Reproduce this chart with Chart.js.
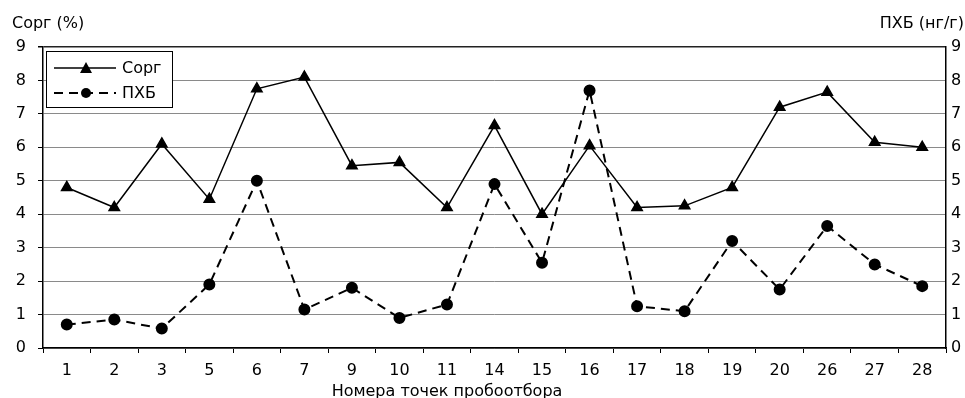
<!DOCTYPE html>
<html>
<head>
<meta charset="utf-8">
<script src="https://cdn.jsdelivr.net/npm/chart.js@4"></script>
<style>
  html, body { margin: 0; padding: 0; background: #fff; }
  #wrap { width: 965px; height: 398px; }
</style>
</head>
<body>
<div id="wrap"><canvas id="chart"></canvas></div>
<script>
// точки пробоотбора
const points = ['1', '2', '3', '5', '6', '7', '9', '10', '11', '14', '15', '16', '17', '18', '19', '20', '26', '27', '28'];
// Сорг, %
const corg = [4.8, 4.2, 6.1, 4.45, 7.75, 8.1, 5.45, 5.55, 4.2, 6.65, 4.0, 6.05, 4.2, 4.25, 4.8, 7.2, 7.65, 6.15, 6.0];
// ПХБ, нг/г
const pcb = [0.7, 0.85, 0.58, 1.9, 5.0, 1.15, 1.8, 0.9, 1.3, 4.9, 2.55, 7.7, 1.25, 1.1, 3.2, 1.75, 3.65, 2.5, 1.85];
const yTicks = [0, 1, 2, 3, 4, 5, 6, 7, 8, 9];

const FONT = 'DejaVu Sans';

// подписи осей и легенда рисуются вручную
const extras = {
  id: 'extras',
  afterDraw(chart) {
    const ctx = chart.ctx;
    const area = chart.chartArea;
    ctx.save();
    ctx.fillStyle = '#000';
    ctx.font = '16px "' + FONT + '"';
    ctx.textBaseline = 'alphabetic';
    ctx.textAlign = 'left';
    ctx.fillText('Сорг (%)', 12, 28);
    ctx.textAlign = 'right';
    ctx.fillText('ПХБ (нг/г)', 964, 28);
    ctx.textAlign = 'center';
    ctx.fillText('Номера точек пробоотбора', 447, 396);

    // легенда
    const lx = area.left + 3, ly = area.top + 4, lw = 126, lh = 56;
    ctx.fillStyle = '#fff';
    ctx.fillRect(lx, ly, lw, lh);
    ctx.strokeStyle = '#000';
    ctx.lineWidth = 1;
    ctx.strokeRect(lx + 0.5, ly + 0.5, lw, lh);
    chart.data.datasets.forEach((ds, i) => {
      const y = ly + 17 + i * 25;
      ctx.strokeStyle = '#000';
      ctx.lineWidth = ds.borderWidth;
      ctx.setLineDash(ds.borderDash || []);
      ctx.beginPath();
      ctx.moveTo(lx + 8, y);
      ctx.lineTo(lx + 70, y);
      ctx.stroke();
      ctx.setLineDash([]);
      ctx.fillStyle = '#000';
      const cx = lx + 40;
      if (ds.pointStyle === 'triangle') {
        ctx.beginPath();
        ctx.moveTo(cx, y - 6);
        ctx.lineTo(cx + 6, y + 5);
        ctx.lineTo(cx - 6, y + 5);
        ctx.closePath();
        ctx.fill();
      } else {
        ctx.beginPath();
        ctx.arc(cx, y, 5, 0, Math.PI * 2);
        ctx.fill();
      }
      ctx.textAlign = 'left';
      ctx.textBaseline = 'middle';
      ctx.fillText(ds.label, lx + 76, y + 1);
    });
    ctx.restore();
  }
};

new Chart(document.getElementById('chart'), {
  type: 'line',
  data: {
    labels: points,
    datasets: [
      {
        label: 'Сорг',
        data: corg,
        yAxisID: 'y',
        borderColor: '#000',
        backgroundColor: '#000',
        borderWidth: 1.5,
        pointStyle: 'triangle',
        pointRadius: 6,
        tension: 0
      },
      {
        label: 'ПХБ',
        data: pcb,
        yAxisID: 'y1',
        borderColor: '#000',
        backgroundColor: '#000',
        borderWidth: 2,
        borderDash: [9, 6],
        pointStyle: 'circle',
        pointRadius: 5,
        tension: 0
      }
    ]
  },
  options: {
    responsive: true,
    maintainAspectRatio: false,
    animation: false,
    layout: { padding: { top: 47, left: 0, right: 0, bottom: 0 } },
    plugins: {
      legend: { display: false },
      tooltip: { enabled: false }
    },
    scales: {
      x: {
        offset: true,
        grid: {
          offset: true,
          drawOnChartArea: false,
          drawTicks: true,
          tickLength: 5,
          tickColor: '#000'
        },
        border: { color: '#000', width: 1.5 },
        ticks: {
          color: '#000',
          font: { family: FONT, size: 16 },
          padding: 8,
          maxRotation: 0,
          autoSkip: false
        },
        afterFit(scale) { scale.height = 50; }
      },
      y: {
        position: 'left',
        min: 0,
        max: 9,
        afterBuildTicks(scale) { scale.ticks = yTicks.map(v => ({ value: v })); },
        grid: {
          color: ctx => ctx.tick && ctx.tick.value === 9 ? '#222' : '#8a8a8a',
          lineWidth: ctx => ctx.tick && ctx.tick.value === 9 ? 1.5 : 1,
          drawTicks: true,
          tickLength: 5,
          tickColor: '#000'
        },
        border: { color: '#000', width: 1.5 },
        ticks: {
          color: '#000',
          font: { family: FONT, size: 16 },
          padding: 12
        },
        afterFit(scale) { scale.width = 43; }
      },
      y1: {
        position: 'right',
        min: 0,
        max: 9,
        afterBuildTicks(scale) { scale.ticks = yTicks.map(v => ({ value: v })); },
        grid: { drawOnChartArea: false, drawTicks: false },
        border: { color: '#000', width: 1.5 },
        ticks: {
          color: '#000',
          font: { family: FONT, size: 16 },
          padding: 5
        },
        afterFit(scale) { scale.width = 19; }
      }
    }
  },
  plugins: [extras]
});
</script>
</body>
</html>
